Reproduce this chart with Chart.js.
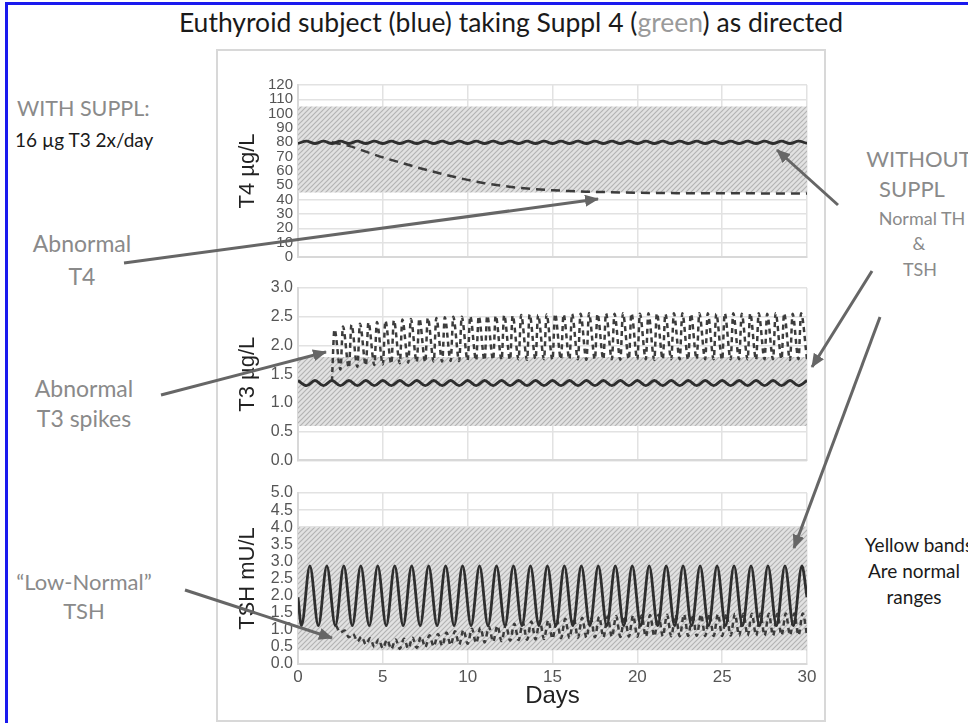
<!DOCTYPE html>
<html>
<head>
<meta charset="utf-8">
<script src="https://cdn.jsdelivr.net/npm/chart.js@4"></script>
<style>
  body { margin: 0; width: 968px; height: 723px; overflow: hidden; background: #fff; position: relative; font-family: Lato, sans-serif; }
  #blueFrame { position: absolute; left: 5px; top: 2px; width: 1000px; height: 800px; border: 3px solid #1a1aee; }
  #plotFrame { position: absolute; left: 216px; top: 49px; width: 606px; height: 669px; border: 2px solid #d8d8d8; }
  canvas { position: absolute; left: 216px; }
  .lbl { position: absolute; white-space: nowrap; transform: translate(-50%, -50%); color: #8a8a8a; font-size: 23px; }
  .lft { position: absolute; white-space: nowrap; transform: translateY(-50%); }
  .dark { color: #1a1a1a; }
  svg { position: absolute; left: 0; top: 0; }
</style>
</head>
<body>
<div id="blueFrame"></div>
<div id="plotFrame"></div>

<div class="lbl dark" style="left:511px; top:22px; font-size:26.5px;">Euthyroid subject (blue) taking Suppl 4 (<span style="color:#9a9a9a">green</span>) as directed</div>

<div class="lft" style="left:17px; top:108px; font-size:21.5px; color:#8a8a8a;">WITH SUPPL:</div>
<div class="lft dark" style="left:15px; top:139px; font-size:19px;">16 µg T3 2x/day</div>

<div class="lbl" style="left:82px; top:243px;">Abnormal</div>
<div class="lbl" style="left:82px; top:276px;">T4</div>
<div class="lbl" style="left:84px; top:388px;">Abnormal</div>
<div class="lbl" style="left:84px; top:418px;">T3 spikes</div>
<div class="lbl" style="left:84px; top:581px; font-size:22px;">“Low-Normal”</div>
<div class="lbl" style="left:84px; top:610px; font-size:22px;">TSH</div>

<div class="lbl" style="left:919px; top:158px; font-size:22px;">WITHOUT</div>
<div class="lbl" style="left:912px; top:188px; font-size:22px;">SUPPL</div>
<div class="lbl" style="left:922px; top:218px; font-size:18px;">Normal TH</div>
<div class="lbl" style="left:919px; top:243px; font-size:18px;">&amp;</div>
<div class="lbl" style="left:920px; top:269px; font-size:18px;">TSH</div>

<div class="lbl dark" style="left:919px; top:544px; font-size:19px;">Yellow bands</div>
<div class="lbl dark" style="left:914px; top:570px; font-size:19px;">Are normal</div>
<div class="lbl dark" style="left:914px; top:596px; font-size:19px;">ranges</div>

<canvas id="t4Chart" width="606" height="209" style="top:62px"></canvas>
<canvas id="t3Chart" width="606" height="205" style="top:270px"></canvas>
<canvas id="tshChart" width="606" height="240" style="top:476px"></canvas>

<svg width="968" height="723">
  <defs>
    <marker id="head" markerUnits="userSpaceOnUse" markerWidth="14" markerHeight="12" refX="13" refY="6" orient="auto">
      <path d="M0,0 L14,6 L0,12 z" fill="#666"></path>
    </marker>
  </defs>
  <g stroke="#666" stroke-width="3" marker-end="url(#head)">
    <line x1="124" y1="263" x2="598" y2="199"></line>
    <line x1="161" y1="395" x2="326" y2="352"></line>
    <line x1="185" y1="590" x2="332" y2="638"></line>
    <line x1="838" y1="205" x2="777" y2="150"></line>
    <line x1="872" y1="271" x2="812" y2="367"></line>
    <line x1="880" y1="317" x2="794" y2="548"></line>
  </g>
</svg>

<script>
// Normal ranges (hatched bands)
const t4Range = [45, 105];
const t3Range = [0.6, 1.8];
const tshRange = [0.4, 4.0];

// T4 without supplement: lows at day 0,1,...30, highs at 0.5,1.5,...29.5
const t4NoSupplLows = [79.2, 79.2, 79.2, 79.2, 79.2, 79.2, 79.2, 79.2, 79.2, 79.2, 79.2, 79.2, 79.2, 79.2, 79.2, 79.2,
  79.2, 79.2, 79.2, 79.2, 79.2, 79.2, 79.2, 79.2, 79.2, 79.2, 79.2, 79.2, 79.2, 79.2, 79.2];
const t4NoSupplHighs = [80.8, 80.8, 80.8, 80.8, 80.8, 80.8, 80.8, 80.8, 80.8, 80.8, 80.8, 80.8, 80.8, 80.8, 80.8,
  80.8, 80.8, 80.8, 80.8, 80.8, 80.8, 80.8, 80.8, 80.8, 80.8, 80.8, 80.8, 80.8, 80.8, 80.8];
// T4 with supplement, one value per day from day 2 to day 30
const t4SupplDays = [2, 3, 4, 5, 6, 7, 8, 9, 10, 11, 12, 13, 14, 15, 16, 17, 18, 19, 20, 21, 22, 23, 24, 25, 26, 27, 28, 29, 30];
const t4Suppl = [80, 77.5, 73.5, 69.5, 66, 62.6, 59.5, 56.5, 53.8, 51.5, 49.7, 48.3, 47.3, 46.6, 46.0, 45.6, 45.3, 45.0,
  44.8, 44.7, 44.6, 44.5, 44.5, 44.4, 44.4, 44.4, 44.3, 44.3, 44.3];

// T3 without supplement: highs at day 0..30, lows at 0.5..29.5
const t3NoSupplHighs = [1.39, 1.39, 1.39, 1.39, 1.39, 1.39, 1.39, 1.39, 1.39, 1.39, 1.39, 1.39, 1.39, 1.39, 1.39, 1.39,
  1.39, 1.39, 1.39, 1.39, 1.39, 1.39, 1.39, 1.39, 1.39, 1.39, 1.39, 1.39, 1.39, 1.39, 1.39];
const t3NoSupplLows = [1.30, 1.30, 1.30, 1.30, 1.30, 1.30, 1.30, 1.30, 1.30, 1.30, 1.30, 1.30, 1.30, 1.30, 1.30,
  1.30, 1.30, 1.30, 1.30, 1.30, 1.30, 1.30, 1.30, 1.30, 1.30, 1.30, 1.30, 1.30, 1.30, 1.30];
// T3 with supplement (doses 2x/day from day 2): peaks at 2.15 + 0.5k, troughs at 2.5 + 0.5k
const t3SupplStart = [2.0, 1.38];
const t3SupplPeaks = [2.28, 2.33, 2.36, 2.38, 2.40, 2.41, 2.43, 2.44, 2.45, 2.46,
  2.47, 2.48, 2.48, 2.49, 2.50, 2.50, 2.51, 2.51, 2.52, 2.52,
  2.53, 2.52, 2.53, 2.54, 2.53, 2.54, 2.55, 2.54, 2.55, 2.55,
  2.56, 2.55, 2.56, 2.55, 2.56, 2.56, 2.55, 2.56, 2.56, 2.55,
  2.56, 2.56, 2.55, 2.56, 2.56, 2.55, 2.56, 2.56, 2.55, 2.56,
  2.56, 2.55, 2.56, 2.56, 2.55, 2.56];
const t3SupplTroughs = [1.58, 1.61, 1.63, 1.65, 1.66, 1.67, 1.68, 1.69, 1.70, 1.71,
  1.71, 1.72, 1.72, 1.73, 1.73, 1.74, 1.74, 1.74, 1.75, 1.75,
  1.75, 1.76, 1.75, 1.76, 1.76, 1.75, 1.76, 1.76, 1.76, 1.75,
  1.76, 1.76, 1.76, 1.75, 1.76, 1.76, 1.76, 1.75, 1.76, 1.76,
  1.76, 1.75, 1.76, 1.76, 1.76, 1.75, 1.76, 1.76, 1.76, 1.75,
  1.76, 1.76, 1.76, 1.75, 1.76, 1.76];

// TSH without supplement: lows at 0.2 + k, highs at 0.7 + k
const tshNoSupplEnds = [1.95, 1.95];
const tshNoSupplLows = [1.12, 1.12, 1.12, 1.12, 1.12, 1.12, 1.12, 1.12, 1.12, 1.12, 1.12, 1.12, 1.12, 1.12, 1.12,
  1.12, 1.12, 1.12, 1.12, 1.12, 1.12, 1.12, 1.12, 1.12, 1.12, 1.12, 1.12, 1.12, 1.12, 1.12];
const tshNoSupplHighs = [2.87, 2.87, 2.87, 2.87, 2.87, 2.87, 2.87, 2.87, 2.87, 2.87, 2.87, 2.87, 2.87, 2.87, 2.87,
  2.87, 2.87, 2.87, 2.87, 2.87, 2.87, 2.87, 2.87, 2.87, 2.87, 2.87, 2.87, 2.87, 2.87, 2.87];
// TSH with supplement: highs at 2.25 + 0.5k, lows at 2.5 + 0.5k
const tshSupplHighs = [1.12, 0.98, 0.88, 0.80, 0.75, 0.72, 0.71, 0.72, 0.74, 0.77,
  0.80, 0.84, 0.88, 0.92, 0.96, 1.00, 1.03, 1.06, 1.09, 1.12,
  1.15, 1.18, 1.21, 1.24, 1.26, 1.28, 1.30, 1.32, 1.34, 1.35,
  1.37, 1.38, 1.39, 1.40, 1.41, 1.42, 1.42, 1.43, 1.43, 1.44,
  1.44, 1.45, 1.45, 1.45, 1.46, 1.46, 1.46, 1.46, 1.47, 1.47,
  1.47, 1.47, 1.47, 1.48, 1.48, 1.48];
const tshSupplLows = [0.92, 0.78, 0.66, 0.57, 0.50, 0.46, 0.44, 0.44, 0.45, 0.47,
  0.49, 0.51, 0.53, 0.55, 0.57, 0.59, 0.61, 0.63, 0.65, 0.67,
  0.68, 0.70, 0.71, 0.72, 0.73, 0.74, 0.75, 0.76, 0.77, 0.77,
  0.78, 0.78, 0.79, 0.79, 0.80, 0.80, 0.80, 0.81, 0.81, 0.81,
  0.81, 0.82, 0.82, 0.82, 0.82, 0.82, 0.83, 0.83, 0.83, 0.83,
  0.83, 0.83, 0.84, 0.84, 0.84, 0.84];

// Merge two sets of alternating extremes (each repeating every `period` days) into one sorted point list
function twoPhase(startA, startB, period, aVals, bVals) {
    const pts = [];
    aVals.forEach((v, k) => pts.push({ x: startA + k * period, y: v }));
    bVals.forEach((v, k) => pts.push({ x: startB + k * period, y: v }));
    return pts.sort((p, q) => p.x - q.x);
}

// Hatched pattern used for the normal-range bands
function hatch() {
    const tile = document.createElement("canvas");
    tile.width = 5;
    tile.height = 5;
    const c = tile.getContext("2d");
    c.fillStyle = "#e2e2e2";
    c.fillRect(0, 0, 5, 5);
    c.strokeStyle = "#b4b4b4";
    c.lineWidth = 1.2;
    c.beginPath();
    c.moveTo(-1, 6); c.lineTo(6, -1);
    c.moveTo(-1, 1); c.lineTo(1, -1);
    c.moveTo(4, 6); c.lineTo(6, 4);
    c.stroke();
    return document.createElement("canvas").getContext("2d").createPattern(tile, "repeat");
}

function bandDataset(range) {
    return {
        data: [{ x: 0, y: range[1] }, { x: 30, y: range[1] }],
        borderWidth: 0,
        pointRadius: 0,
        backgroundColor: hatch(),
        fill: { value: range[0] },
        order: 2,
    };
}

function lineDataset(points, dash) {
    return {
        data: points,
        borderColor: dash ? "#3c3c3c" : "#2e2e2e",
        borderWidth: dash ? 2.5 : 2.8,
        borderDash: dash || [],
        pointRadius: 0,
        fill: false,
        cubicInterpolationMode: "monotone",
        order: dash ? 1 : 0,
    };
}

const gridColor = "#e2e2e2";
const tickFamily = "'Liberation Sans', Arial, sans-serif";

function makeChart(id, datasets, yOpts, showX, padding) {
    return new Chart(document.getElementById(id), {
        type: "line",
        data: { datasets: datasets },
        options: {
            responsive: false,
            animation: false,
            devicePixelRatio: 1,
            layout: { padding: padding },
            plugins: { legend: { display: false }, tooltip: { enabled: false } },
            scales: {
                x: {
                    type: "linear",
                    min: 0,
                    max: 30,
                    ticks: { display: showX, stepSize: 5, color: "#555", font: { family: tickFamily, size: 17 }, padding: 3, maxRotation: 0 },
                    grid: { color: gridColor, lineWidth: 1.5, drawTicks: false },
                    border: { color: "#d8d8d8", width: 2 },
                    title: { display: showX, text: "Days", color: "#222", font: { family: tickFamily, size: 24 }, padding: { top: 0, bottom: 1 } },
                    afterFit: (s) => { s.height = showX ? 48 : 0; },
                },
                y: {
                    min: yOpts.min,
                    max: yOpts.max,
                    ticks: {
                        stepSize: yOpts.step,
                        autoSkip: false,
                        color: "#555",
                        font: { family: tickFamily, size: yOpts.fontSize },
                        padding: 5,
                        callback: (v) => v.toFixed(yOpts.digits),
                    },
                    grid: { color: gridColor, lineWidth: 1.5, drawTicks: false },
                    border: { color: "#d8d8d8", width: 2 },
                    title: { display: true, text: yOpts.title, color: "#222", font: { family: tickFamily, size: 22 }, padding: { top: 19, bottom: 0 } },
                    afterFit: (s) => { s.width = 82; },
                },
            },
        },
    });
}

makeChart("t4Chart", [
    bandDataset(t4Range),
    lineDataset(t4SupplDays.map((d, i) => ({ x: d, y: t4Suppl[i] })), [9, 6]),
    lineDataset(twoPhase(0, 0.5, 1, t4NoSupplLows, t4NoSupplHighs), null),
], { min: 0, max: 120, step: 10, digits: 0, fontSize: 15, title: "T4 µg/L" }, false, { top: 23, right: 15, bottom: 12, left: 0 });

makeChart("t3Chart", [
    bandDataset(t3Range),
    lineDataset([{ x: t3SupplStart[0], y: t3SupplStart[1] }].concat(twoPhase(2.15, 2.5, 0.5, t3SupplPeaks, t3SupplTroughs)), [5, 4]),
    lineDataset(twoPhase(0, 0.5, 1, t3NoSupplHighs, t3NoSupplLows), null),
], { min: 0, max: 3, step: 0.5, digits: 1, fontSize: 16, title: "T3 µg/L" }, false, { top: 18, right: 15, bottom: 12, left: 0 });

makeChart("tshChart", [
    bandDataset(tshRange),
    lineDataset(twoPhase(2.25, 2.5, 0.5, tshSupplHighs, tshSupplLows), [5, 4]),
    lineDataset([{ x: 0, y: tshNoSupplEnds[0] }]
        .concat(twoPhase(0.2, 0.7, 1, tshNoSupplLows, tshNoSupplHighs))
        .concat([{ x: 30, y: tshNoSupplEnds[1] }]), null),
], { min: 0, max: 5, step: 0.5, digits: 1, fontSize: 16, title: "TSH mU/L" }, true, { top: 17, right: 15, bottom: 4, left: 0 });
</script>
</body>
</html>
